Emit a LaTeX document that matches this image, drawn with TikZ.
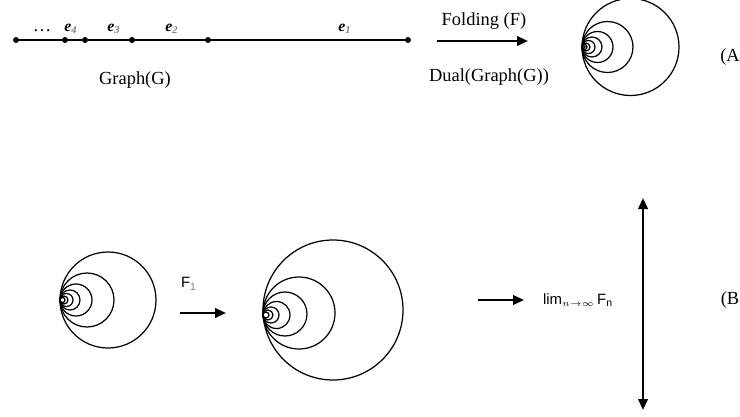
\documentclass[tikz,border=0pt]{standalone}
\usepackage{fontspec}
\setmainfont{Liberation Serif}
\setsansfont{Liberation Sans}
\usetikzlibrary{arrows.meta}

\begin{document}
\begin{tikzpicture}[
  x=0.02cm, y=-0.02cm,
  dot/.style={circle, fill, inner sep=1.2pt},
  elabel/.style={font=\fontsize{9}{10}\selectfont\bfseries\itshape, inner sep=0pt},
  txt/.style={font=\fontsize{10.5}{12}\selectfont, inner sep=0pt},
  sftxt/.style={font=\sffamily\fontsize{8.5}{10}\selectfont, inner sep=0pt},
  ring/.style={line width=0.7pt},
  arrow/.style={-{Triangle[length=2.2mm,width=1.9mm]}, line width=1.3pt},
  darrow/.style={{Triangle[length=2.2mm,width=1.9mm]}-{Triangle[length=2.2mm,width=1.9mm]}, line width=1.3pt}
]
\useasboundingbox (0,0) rectangle (740,416);

\node[dot] (v0) at (16,40) {};
\node[dot] (v1) at (65,40) {};
\node[dot] (v2) at (85,40) {};
\node[dot] (v3) at (132,40) {};
\node[dot] (v4) at (208,40) {};
\node[dot] (v5) at (408,40) {};
\draw[line width=0.7pt] (v0) -- (v1) -- (v2) -- (v3) -- (v4) -- (v5);

\node[txt] (dots) at (42,31) {\dots};
\node[elabel] (e4) at (71,29) {e\textsubscript{\color{gray}4}};
\node[elabel] (e3) at (114,29) {e\textsubscript{\color{gray}3}};
\node[elabel] (e2) at (172,29) {e\textsubscript{\color{gray}2}};
\node[elabel] (e1) at (345,29) {e\textsubscript{\color{gray}1}};
\node[txt] (graph) at (135,80) {Graph(G)};

\node[txt] (fold) at (484,21) {Folding (F)};
\coordinate (foldS) at (437,41);
\coordinate (foldE) at (528,41);
\draw[arrow] (foldS) -- (foldE);
\node[txt] (dual) at (489,77) {Dual(Graph(G))};

\draw[ring] (630.5,47) circle (48.5);
\draw[ring] (607.5,47) circle (25.5);
\draw[ring] (597.5,47) circle (15.5);
\draw[ring] (592,47) circle (10);
\draw[ring] (588.5,47) circle (6.5);
\draw[ring] (586,47) circle (4);
\draw[ring] (584.5,47) circle (2.5);
\draw[ring] (583.5,47) circle (1.5);
\node[txt] (labA) at (730,57) {(A};

\draw[ring] (108,300) circle (48);
\draw[ring] (87,300) circle (27);
\draw[ring] (76,300) circle (16);
\draw[ring] (70,300) circle (10);
\draw[ring] (66.5,300) circle (6.5);
\draw[ring] (64,300) circle (4);
\draw[ring] (62.5,300) circle (2.5);

\node[sftxt] (f1) at (189,284) {F\textsubscript{\color{gray}1}};
\coordinate (f1S) at (180,313);
\coordinate (f1E) at (226,313);
\draw[arrow] (f1S) -- (f1E);

\draw[ring] (333,310) circle (70);
\draw[ring] (299,313) circle (36);
\draw[ring] (285,314) circle (22);
\draw[ring] (276.5,315) circle (13.5);
\draw[ring] (271,315) circle (8);
\draw[ring] (268,315) circle (5);
\draw[ring] (266,315) circle (3);

\coordinate (limS) at (478,300);
\coordinate (limE) at (524,300);
\draw[arrow] (limS) -- (limE);
\node[sftxt] (lim) at (578,300) {lim\textsubscript{$\scriptscriptstyle n\to\infty$}\,F\textsubscript{n}};

\coordinate (vTop) at (643,198);
\coordinate (vBot) at (643,410);
\draw[darrow] (vTop) -- (vBot);
\node[txt] (labB) at (730,300) {(B};

\end{tikzpicture}
\end{document}
